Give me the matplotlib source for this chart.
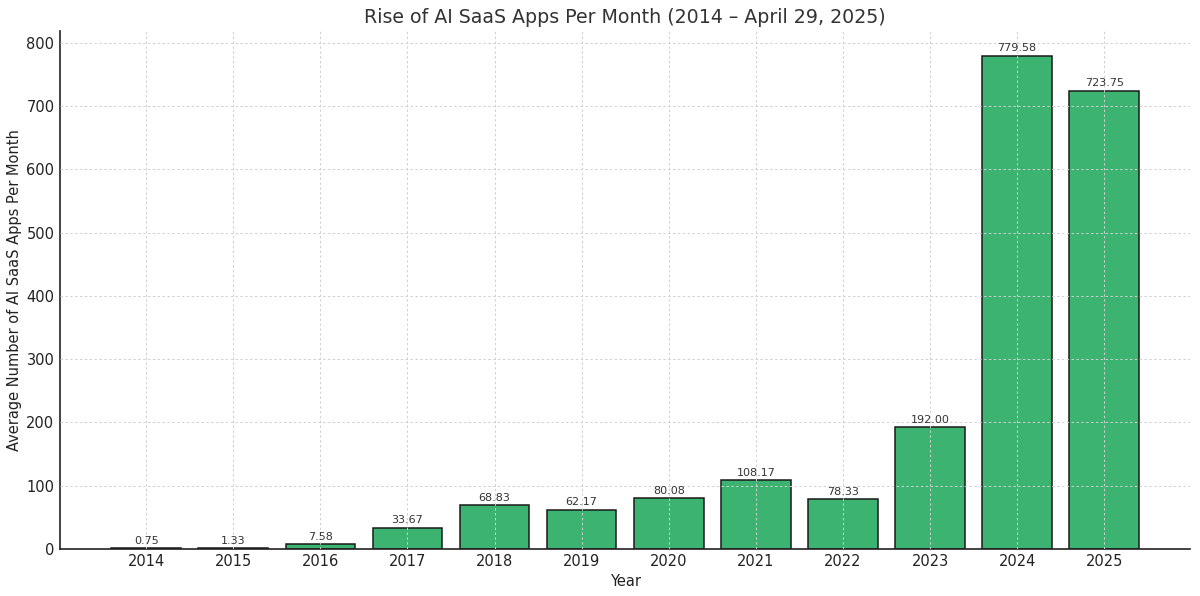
import matplotlib
matplotlib.use("Agg")
import matplotlib.pyplot as plt

years = ["2014", "2015", "2016", "2017", "2018", "2019", "2020", "2021", "2022", "2023", "2024", "2025"]
values = [0.75, 1.33, 7.58, 33.67, 68.83, 62.17, 80.08, 108.17, 78.33, 192.00, 779.58, 723.75]

fig, ax = plt.subplots(figsize=(12, 5.96), dpi=100)
bars = ax.bar(years, values, color="#3cb371", edgecolor="#1a1a1a", linewidth=1.1, width=0.8)
for b, v in zip(bars, values):
    ax.text(b.get_x() + b.get_width() / 2, v + 4, f"{v:.2f}", ha="center", va="bottom",
            fontsize=8, color="#333333")

ax.set_title("Rise of AI SaaS Apps Per Month (2014 – April 29, 2025)", fontsize=13.7, color="#333333")
ax.set_xlabel("Year", fontsize=10.5, color="#222222", labelpad=3)
ax.set_ylabel("Average Number of AI SaaS Apps Per Month", fontsize=10.5, color="#222222", labelpad=3)
ax.tick_params(labelsize=10.5, colors="#222222", length=0, pad=4)
ax.grid(True, linestyle=(0, (2.5, 2.5)), color="#d0d0d0", linewidth=0.7)
ax.set_axisbelow(False)
ax.spines["top"].set_visible(False)
ax.spines["right"].set_visible(False)
for s in ("left", "bottom"):
    ax.spines[s].set_linewidth(1.2)
    ax.spines[s].set_color("#222222")
ax.set_yticks(range(0, 801, 100))

fig.subplots_adjust(left=0.05, right=0.992, top=0.948, bottom=0.079)
fig.savefig("out.png", dpi=100)
